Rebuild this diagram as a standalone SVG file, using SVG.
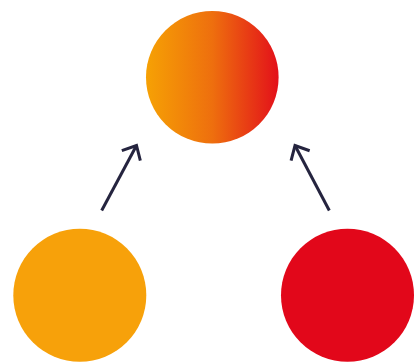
<svg xmlns="http://www.w3.org/2000/svg" width="414" height="362" viewBox="0 0 414 362">
  <defs>
    <linearGradient id="grad" x1="0" y1="0" x2="1" y2="0">
      <stop offset="0" stop-color="#F6A104"/>
      <stop offset="0.5" stop-color="#EE6F0E"/>
      <stop offset="1" stop-color="#E3101A"/>
    </linearGradient>
    <marker id="arrow" markerUnits="userSpaceOnUse" markerWidth="30" markerHeight="30" refX="0" refY="0" viewBox="-15 -15 30 30" orient="auto" overflow="visible">
      <path d="M-11.5,-10.5 L0,0 L-11.5,10.5" fill="none" stroke="#25243F" stroke-width="3" stroke-linecap="butt" stroke-linejoin="miter"/>
    </marker>
    <style>
      .edge { fill: none; stroke: #25243F; stroke-width: 3; }
    </style>
  </defs>
  <rect width="414" height="362" fill="#FFFFFF"/>
  <g id="top">
    <circle cx="212.3" cy="77.3" r="66.3" fill="url(#grad)"/>
  </g>
  <g id="left">
    <circle cx="79.8" cy="295.3" r="66.5" fill="#F7A10A"/>
  </g>
  <g id="right">
    <circle cx="347.5" cy="295.3" r="66.5" fill="#E2071A"/>
  </g>
  <g id="connectors">
    <path class="edge" d="M101.7,210.5 L136.5,145.5" marker-end="url(#arrow)"/>
    <path class="edge" d="M329.3,210.5 L295,145.5" marker-end="url(#arrow)"/>
  </g>
</svg>
